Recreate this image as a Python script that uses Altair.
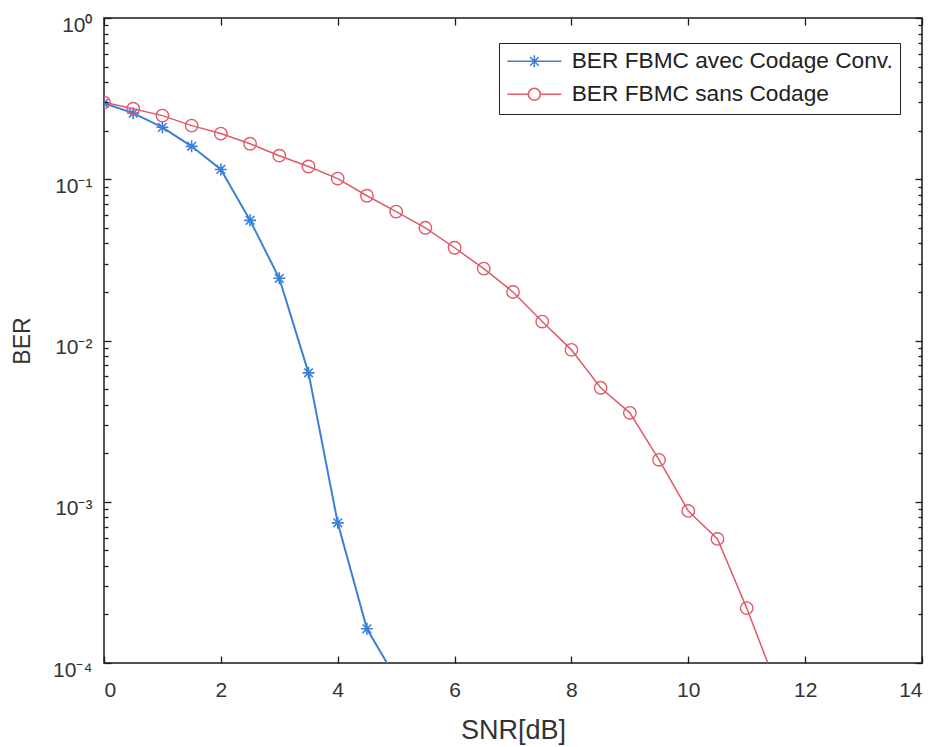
import altair as alt
import pandas as pd

# ---------------- data ----------------
label_coded = "BER FBMC avec Codage Conv."
label_uncoded = "BER FBMC sans Codage"

snr_coded = [0, 0.5, 1, 1.5, 2, 2.5, 3, 3.5, 4, 4.5, 5]
ber_coded = [0.296, 0.257, 0.21, 0.16, 0.115, 0.0556, 0.0243, 0.0063, 0.00074, 0.000163, 0.00008]

snr_uncoded = [0, 0.5, 1, 1.5, 2, 2.5, 3, 3.5, 4, 4.5, 5, 5.5, 6, 6.5, 7, 7.5, 8,
               8.5, 9, 9.5, 10, 10.5, 11, 11.5]
ber_uncoded = [0.300, 0.274, 0.248, 0.215, 0.192, 0.166, 0.140, 0.120, 0.101, 0.079,
               0.063, 0.050, 0.0376, 0.0279, 0.0200, 0.0131, 0.00875, 0.00509, 0.00356,
               0.00182, 0.000877, 0.000588, 0.000219, 0.000074]

x_ticks = [0, 2, 4, 6, 8, 10, 12, 14]
y_decades = [0.0001, 0.001, 0.01, 0.1, 1]
y_minor = [k * d for d in [0.0001, 0.001, 0.01, 0.1] for k in range(2, 10)]

BLUE = "#3b80d8"
RED = "#e05a68"
FONT = "Liberation Sans"

df_coded = pd.DataFrame({"snr": snr_coded, "ber": ber_coded, "series": label_coded})
df_uncoded = pd.DataFrame({"snr": snr_uncoded, "ber": ber_uncoded, "series": label_uncoded})
df_legend = pd.DataFrame({"series": [label_coded, label_uncoded]})

# marker shapes (custom SVG paths, unit coordinates)
ASTERISK = "M-1,0L1,0M0,-1L0,1M-0.72,-0.72L0.72,0.72M-0.72,0.72L0.72,-0.72"
LEG_CODED = "M-4.5,0L4.5,0M0,-1L0,1M-0.72,-0.72L0.72,0.72M-0.72,0.72L0.72,-0.72"
LEG_UNCODED = "M-4.5,0L-1,0M1,0L4.5,0M1,0A1,1,0,1,1,-1,0A1,1,0,1,1,1,0"

xscale = alt.Scale(domain=[0, 14], nice=False, zero=False)
yscale = alt.Scale(type="log", domain=[0.0001, 1], nice=False)

label_expr = ("datum.value > 0.5 ? '10\u2070' : datum.value > 0.05 ? '10\u207b\u00b9' : "
              "datum.value > 0.005 ? '10\u207b\u00b2' : datum.value > 0.0005 ? '10\u207b\u00b3' : '10\u207b\u2074'")

ax_common = dict(domain=False, grid=False, ticks=True, tickColor="#1a1a1a", tickWidth=1.3, zindex=1)

x_bottom = alt.Axis(orient="bottom", values=x_ticks, offset=-7, tickSize=7, format="d",
                    labelPadding=16, labelFontSize=21, titleFontSize=27, titlePadding=17,
                    **ax_common)
x_top = alt.Axis(orient="top", values=x_ticks, offset=-7, tickSize=7, labels=False, **ax_common)

y_left = alt.Axis(orient="left", values=y_decades, offset=-7, tickSize=7, labelExpr=label_expr,
                  labelPadding=12, labelOffset=7, labelFontSize=21, titleFontSize=23, titlePadding=18,
                  **ax_common)
y_left_minor = alt.Axis(orient="left", values=y_minor, offset=-4, tickSize=4, labels=False, **ax_common)
y_right = alt.Axis(orient="right", values=y_decades, offset=-7, tickSize=7, labels=False, **ax_common)
y_right_minor = alt.Axis(orient="right", values=y_minor, offset=-4, tickSize=4, labels=False, **ax_common)

blue_line = alt.Chart(df_coded).mark_line(color=BLUE, strokeWidth=2, clip=True).encode(
    x=alt.X("snr:Q", scale=xscale, axis=x_bottom, title="SNR[dB]"),
    y=alt.Y("ber:Q", scale=yscale, axis=y_left, title="BER"),
)
blue_pts = alt.Chart(df_coded).mark_point(shape=ASTERISK, size=144, color=BLUE, strokeWidth=1.6,
                                          filled=False, opacity=1, clip=True).encode(
    x=alt.X("snr:Q", scale=xscale, axis=x_top, title=None),
    y=alt.Y("ber:Q", scale=yscale, axis=y_left_minor, title=None),
)
red_line = alt.Chart(df_uncoded).mark_line(color=RED, strokeWidth=1.5, clip=True).encode(
    x=alt.X("snr:Q", scale=xscale, axis=None),
    y=alt.Y("ber:Q", scale=yscale, axis=y_right, title=None),
)
red_pts = alt.Chart(df_uncoded).mark_point(shape="circle", size=155, color=RED, strokeWidth=1.4,
                                           filled=False, opacity=1, clip=True).encode(
    x=alt.X("snr:Q", scale=xscale, axis=None),
    y=alt.Y("ber:Q", scale=yscale, axis=y_right_minor, title=None),
)

leg = alt.Legend(title=None, orient="none", legendX=395, legendY=25, direction="vertical",
                 strokeColor="#222", fillColor="white", padding=7,
                 labelFontSize=22.7, labelFont=FONT, labelColor="#222", labelLimit=600,
                 symbolSize=144, symbolStrokeWidth=1.5, symbolOffset=17, labelOffset=26,
                 rowPadding=9)

legend_layer = alt.Chart(df_legend).mark_point(filled=False, opacity=1, strokeWidth=1.5).encode(
    color=alt.Color("series:N", scale=alt.Scale(domain=[label_coded, label_uncoded], range=[BLUE, RED]),
                    legend=leg),
    shape=alt.Shape("series:N", scale=alt.Scale(domain=[label_coded, label_uncoded],
                                                range=[LEG_CODED, LEG_UNCODED]),
                    legend=leg),
).transform_filter("false")

chart = alt.layer(blue_line, blue_pts, red_line, red_pts, legend_layer).resolve_axis(
    x="independent", y="independent"
).properties(
    width=818, height=645,
    padding={"left": 104, "top": 18, "right": 14, "bottom": 84},
    autosize=alt.AutoSizeParams(type="none"),
    background="white",
).configure_view(
    stroke="#1a1a1a", strokeWidth=1.5
).configure_axis(
    labelFont=FONT, titleFont=FONT, labelColor="#333", titleColor="#333", titleFontWeight="normal"
)

chart.save("out.html", embed_options={"renderer": "svg", "actions": False})
